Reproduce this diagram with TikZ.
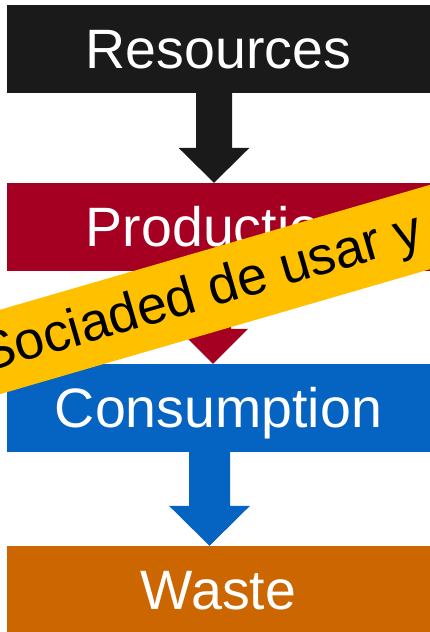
\documentclass[tikz,border=0pt]{standalone}
\usepackage{fontspec}
\setmainfont{Liberation Sans}
\usetikzlibrary{calc}
\definecolor{resblack}{RGB}{26,26,26}
\definecolor{prodred}{RGB}{165,0,33}
\definecolor{consblue}{RGB}{5,99,193}
\definecolor{wasteorange}{RGB}{204,102,0}
\definecolor{bandyellow}{RGB}{255,192,0}
\newcommand{\blockarrow}[6]{%
  \fill[#1] ($(#2)+(-#4,0)$) -- ($(#2)+(#4,0)$) -- ($(#3)+(#4,#6)$) -- ($(#3)+(#5,#6)$) -- (#3) -- ($(#3)+(-#5,#6)$) -- ($(#3)+(-#4,#6)$) -- cycle;}
\begin{document}
\begin{tikzpicture}[x=1pt,y=1pt,
  stagebox/.style={rectangle, inner sep=0pt, minimum width=423pt, minimum height=88pt,
    text=white, font=\fontsize{55.5}{60}\selectfont, text height=39.7pt, text depth=0pt},
  bandtext/.style={anchor=base west, rotate=16.2, inner sep=0pt, text=black,
    font=\fontsize{53.5}{60}\selectfont}
]
\useasboundingbox (0,0) rectangle (430,632);
\clip (0,0) rectangle (430,632);
% stages
\node[stagebox, fill=resblack] (res) at (218.5,583) {Resources};
\node[stagebox, fill=prodred] (prod) at (218.5,405) {Production};
\node[stagebox, fill=consblue] (cons) at (218.5,224) {Consumption};
\node[stagebox, fill=wasteorange] (waste) at (218.5,42) {Waste};
% arrows
\coordinate (a1s) at ($(res.south)+(-4.5,0)$);
\coordinate (a1t) at ($(prod.north)+(-4.5,0)$);
\coordinate (a2s) at ($(prod.south)+(-5.5,0)$);
\coordinate (a2t) at ($(cons.north)+(-5.5,0)$);
\coordinate (a3s) at ($(cons.south)+(-9,0)$);
\coordinate (a3t) at ($(waste.north)+(-9,0)$);
\blockarrow{resblack}{a1s}{a1t}{18}{35.5}{35}
\blockarrow{prodred}{a2s}{a2t}{18}{35}{35}
\blockarrow{consblue}{a3s}{a3t}{20.5}{40.5}{40}
% banner
\fill[bandyellow, rotate around={16.2:(215,342.5)}] (-200,302) -- (630,302) -- (630,383) -- (-200,383) -- cycle;
\node[bandtext] (band) at (-15,259.0) {Sociaded de usar y};
\end{tikzpicture}
\end{document}
